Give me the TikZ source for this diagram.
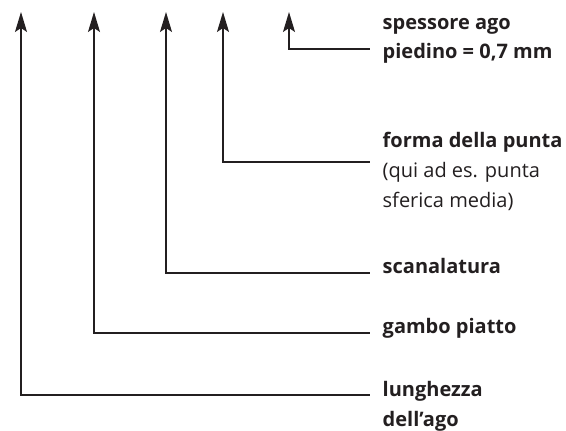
\documentclass[tikz,border=0pt]{standalone}
\usepackage{fontspec}
\setmainfont{Open Sans}
\usetikzlibrary{arrows.meta, positioning}
\definecolor{cink}{HTML}{231F20}
\tikzset{
  every picture/.style={line width=1.4pt, x=1pt, y=-1pt},
  part/.style={anchor=base west, align=left, inner xsep=12pt, inner ysep=0pt, text=cink, font=\fontsize{20}{30}\selectfont},
  lead/.style={{Stealth[length=20pt, width=12pt, inset=4pt]}-, draw=cink, line width=1.4pt},
}

\begin{document}
\begin{tikzpicture}
  \useasboundingbox (0,0) rectangle (566,431);
  % arrow tips along the top
  \coordinate (tipL) at (21,12);
  \coordinate (tipG) at (94,12);
  \coordinate (tipC) at (166,12);
  \coordinate (tipF) at (223,12);
  \coordinate (tipS) at (289,12);
  % labels on the right (base = last line)
  \node[part] (spessore) at (370,59) {\textbf{spessore ago}\\\textbf{piedino = 0,7 mm}};
  \node[part] (forma) at (370,207) {\textbf{forma della punta}\\(qui ad es. punta\\sferica media)};
  \node[part] (scanal) at (370,273) {\textbf{scanalatura}};
  \node[part] (gambo) at (370,333) {\textbf{gambo piatto}};
  \node[part] (lungh) at (370,426) {\textbf{lunghezza}\\\textbf{dell’ago}};
  % leaders
  \draw[lead] (tipS) |- ([yshift=10pt]spessore.base west);
  \draw[lead] (tipF) |- ([yshift=45pt]forma.base west);
  \draw[lead] (tipC) |- (scanal.base west);
  \draw[lead] (tipG) |- (gambo.base west);
  \draw[lead] (tipL) |- ([yshift=31pt]lungh.base west);
\end{tikzpicture}
\end{document}
